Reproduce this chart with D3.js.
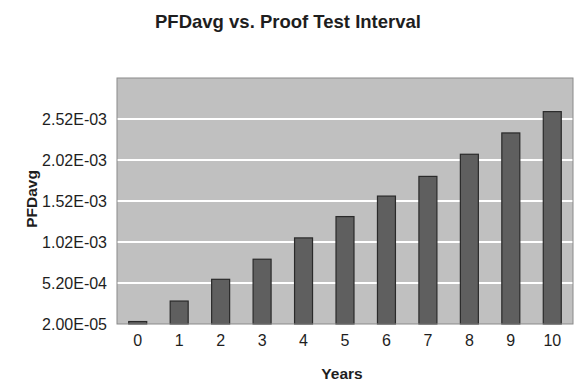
<!DOCTYPE html>
<html><head><meta charset="utf-8">
<script src="https://cdn.jsdelivr.net/npm/d3@7"></script>
<style>body{margin:0;background:#fff;} text{font-family:"Liberation Sans",Arial,sans-serif;fill:#1e1e1e;}</style>
</head><body>
<svg id="c" width="585" height="390"></svg>
<script>
const years = ["0","1","2","3","4","5","6","7","8","9","10"];
const pfdavg = [5.0e-5, 3.0e-4, 5.65e-4, 8.1e-4, 1.07e-3, 1.33e-3, 1.58e-3, 1.82e-3, 2.09e-3, 2.35e-3, 2.61e-3];
const yTickValues = [2.0e-5, 5.2e-4, 1.02e-3, 1.52e-3, 2.02e-3, 2.52e-3];
const yTickLabels = ["2.00E-05", "5.20E-04", "1.02E-03", "1.52E-03", "2.02E-03", "2.52E-03"];

const svg = d3.select("#c");
const L = 117, R = 573, T = 78, B = 324;
const x = d3.scaleBand().domain(years).range([L, R]).paddingInner(0.566).paddingOuter(0.283);
const y = d3.scaleLinear().domain([2.0e-5, 3.02e-3]).range([B, T]);

svg.append("rect").attr("x", L).attr("y", T).attr("width", R - L).attr("height", B - T)
  .attr("fill", "#c0c0c0");

svg.append("g").selectAll("line").data(yTickValues.slice(1)).join("line")
  .attr("x1", L).attr("x2", R).attr("y1", d => y(d)).attr("y2", d => y(d))
  .attr("stroke", "#ffffff").attr("stroke-width", 2);

svg.append("g").selectAll("rect").data(pfdavg).join("rect")
  .attr("x", (d, i) => x(years[i]))
  .attr("y", d => y(d))
  .attr("width", x.bandwidth())
  .attr("height", d => B - y(d))
  .attr("fill", "#5f5f5f").attr("stroke", "#2a2a2a").attr("stroke-width", 1.2);

svg.append("rect").attr("x", L).attr("y", T).attr("width", R - L).attr("height", B - T)
  .attr("fill", "none").attr("stroke", "#8a8a8a").attr("stroke-width", 1);

const yAxis = d3.axisLeft(y).tickValues(yTickValues).tickFormat((d, i) => yTickLabels[i]).tickSize(0).tickPadding(10);
const gy = svg.append("g").attr("transform", `translate(${L},0)`).call(yAxis);
gy.select(".domain").remove();
gy.selectAll("text").attr("font-size", 16).style("font-family", "Liberation Sans, Arial, sans-serif").attr("fill", "#1e1e1e");

const xAxis = d3.axisBottom(x).tickSize(0).tickPadding(11);
const gx = svg.append("g").attr("transform", `translate(0,${B})`).call(xAxis);
gx.select(".domain").remove();
gx.selectAll("text").attr("font-size", 16).style("font-family", "Liberation Sans, Arial, sans-serif").attr("fill", "#1e1e1e");

svg.append("text").attr("x", 288).attr("y", 28).attr("text-anchor", "middle")
  .attr("font-size", 18.5).attr("font-weight", "bold").text("PFDavg vs. Proof Test Interval");
svg.append("text").attr("x", 342).attr("y", 379).attr("text-anchor", "middle")
  .attr("font-size", 15.5).attr("font-weight", "bold").text("Years");
svg.append("text").attr("transform", "translate(36.5,199) rotate(-90)").attr("text-anchor", "middle")
  .attr("font-size", 15.5).attr("font-weight", "bold").text("PFDavg");
</script>
</body></html>
